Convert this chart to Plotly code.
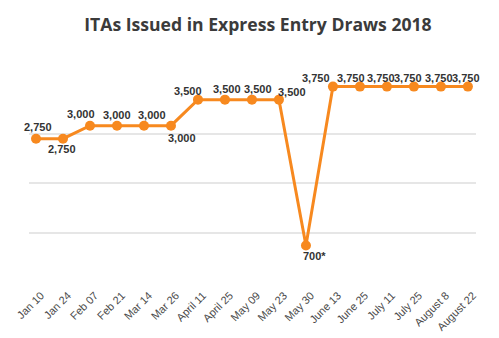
import plotly.graph_objects as go

# Express Entry draw dates (2018) and invitations issued
dates = ["Jan 10", "Jan 24", "Feb 07", "Feb 21", "Mar 14", "Mar 26", "April 11", "April 25",
         "May 09", "May 23", "May 30", "June 13", "June 25", "July 11", "July 25",
         "August 8", "August 22"]
itas = [2750, 2750, 3000, 3000, 3000, 3000, 3500, 3500, 3500, 3500, 700,
        3750, 3750, 3750, 3750, 3750, 3750]
notes = ["", "", "", "", "", "", "", "", "", "", "*", "", "", "", "", "", ""]

# label offsets in pixels (x, y) so neighbouring labels don't collide
label_dx = [2, -1, -9, 0, 8, 11, -10, 2, 6, 13, 9, -17, -9, -6, -6, -2, -2]
label_dy = [12, -10, 12, 11, 11, -12, 9, 11, 11, 8, -10, 9, 9, 9, 9, 9, 9]

orange = "#F7891F"

fig = go.Figure()
fig.add_trace(go.Scatter(
    x=dates, y=itas, mode="lines+markers",
    line=dict(color=orange, width=3),
    marker=dict(color=orange, size=10),
    cliponaxis=False, hoverinfo="skip",
))

for d, v, n, dx, dy in zip(dates, itas, notes, label_dx, label_dy):
    fig.add_annotation(
        x=d, y=v, text=f"{v:,}{n}", showarrow=False,
        xshift=dx, yshift=dy,
        font=dict(family="Liberation Sans, Arial, sans-serif", size=11, color="#333333", weight="bold"),
    )

fig.update_layout(
    width=499, height=338,
    margin=dict(l=29, r=23, t=84, b=56),
    paper_bgcolor="white", plot_bgcolor="white",
    showlegend=False,
    title=dict(
        text="ITAs Issued in Express Entry Draws 2018",
        x=0.517, xanchor="center",
        y=1 - 25 / 338, yref="container", yanchor="middle",
        font=dict(family="Open Sans, sans-serif", size=17.6, color="#3b3b3b", weight="bold"),
    ),
    xaxis=dict(
        type="category", range=[-0.26, 16.3], automargin=False,
        showgrid=False, zeroline=False, showline=False, ticks="",
        tickangle=-45, ticklabelstandoff=4, ticklabelshift=5,
        tickfont=dict(family="Liberation Sans, Arial, sans-serif", size=11, color="#4a4a4a"),
    ),
    yaxis=dict(
        range=[0, 3800], tickvals=[0, 950, 1900, 2850, 3800], automargin=False,
        showticklabels=False, showgrid=True, gridcolor="#e6e6e6", gridwidth=1.5,
        zeroline=False, showline=False,
    ),
)

fig.write_html("out.html")
